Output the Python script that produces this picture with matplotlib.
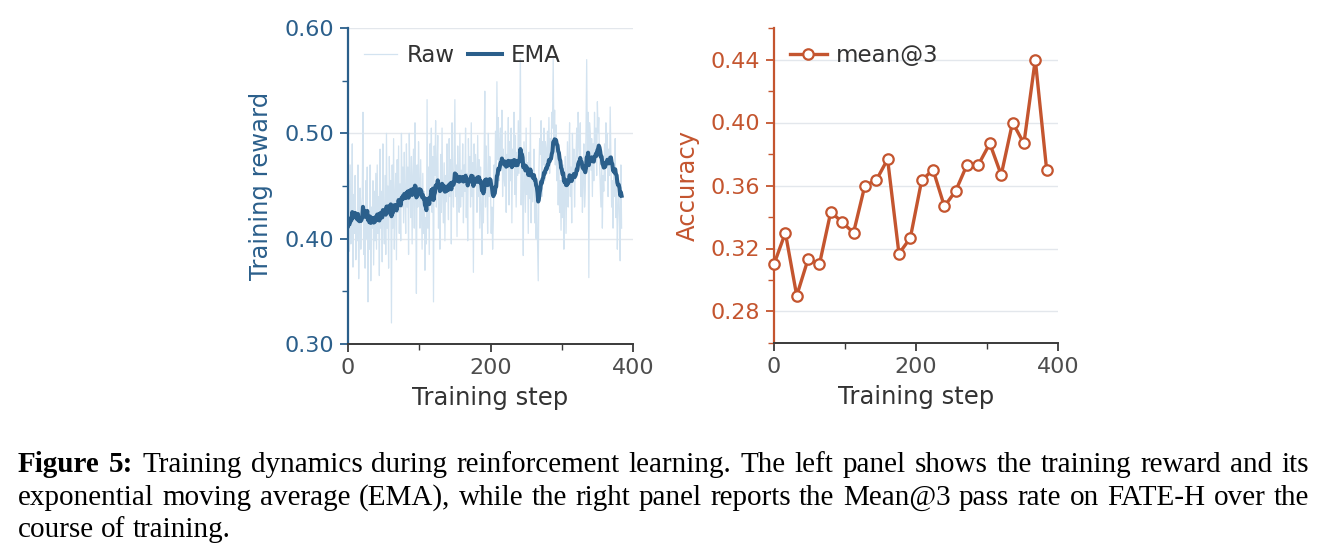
import matplotlib
matplotlib.use("Agg")
import matplotlib.pyplot as plt
import numpy as np
import pandas as pd
from matplotlib.ticker import MultipleLocator

# ---------------- data ----------------
raw_reward = [
    0.412, 0.455, 0.388, 0.470, 0.395, 0.430, 0.490, 0.373, 0.442, 0.405, 0.460, 0.380, 0.425, 0.398, 0.470, 0.362, 0.410, 0.448, 0.390, 0.430,
    0.440, 0.520, 0.385, 0.430, 0.372, 0.455, 0.400, 0.468, 0.340, 0.425, 0.390, 0.470, 0.360, 0.430, 0.410, 0.455, 0.375, 0.445, 0.398, 0.462,
    0.390, 0.470, 0.405, 0.440, 0.365, 0.485, 0.410, 0.445, 0.378, 0.490, 0.420, 0.395, 0.460, 0.385, 0.500, 0.410, 0.450, 0.372, 0.478, 0.430,
    0.455, 0.320, 0.470, 0.410, 0.495, 0.390, 0.440, 0.462, 0.380, 0.475, 0.425, 0.488, 0.405, 0.452, 0.398, 0.500, 0.430, 0.468, 0.415, 0.482,
    0.440, 0.405, 0.490, 0.430, 0.468, 0.385, 0.500, 0.452, 0.420, 0.478, 0.395, 0.460, 0.485, 0.410, 0.510, 0.440, 0.348, 0.470, 0.430, 0.492,
    0.455, 0.410, 0.475, 0.430, 0.390, 0.462, 0.405, 0.445, 0.370, 0.420, 0.395, 0.532, 0.410, 0.468, 0.385, 0.490, 0.450, 0.505, 0.425, 0.478,
    0.340, 0.488, 0.460, 0.512, 0.430, 0.470, 0.498, 0.410, 0.455, 0.390, 0.480, 0.425, 0.505, 0.440, 0.415, 0.472, 0.398, 0.460, 0.435, 0.490,
    0.450, 0.418, 0.495, 0.440, 0.475, 0.395, 0.510, 0.455, 0.430, 0.482, 0.532, 0.440, 0.470, 0.402, 0.488, 0.450, 0.425, 0.500, 0.430, 0.465,
    0.440, 0.490, 0.415, 0.470, 0.445, 0.505, 0.420, 0.462, 0.398, 0.495, 0.450, 0.478, 0.430, 0.510, 0.440, 0.472, 0.368, 0.490, 0.455, 0.480,
    0.460, 0.425, 0.498, 0.440, 0.475, 0.410, 0.468, 0.430, 0.385, 0.450, 0.415, 0.472, 0.540, 0.430, 0.488, 0.452, 0.405, 0.500, 0.440, 0.478,
    0.450, 0.405, 0.430, 0.390, 0.418, 0.470, 0.440, 0.502, 0.455, 0.549, 0.475, 0.515, 0.455, 0.492, 0.505, 0.465, 0.522, 0.440, 0.485, 0.458,
    0.450, 0.502, 0.425, 0.480, 0.468, 0.515, 0.432, 0.492, 0.455, 0.505, 0.415, 0.485, 0.470, 0.520, 0.442, 0.498, 0.430, 0.482, 0.460, 0.512,
    0.462, 0.500, 0.571, 0.432, 0.485, 0.448, 0.384, 0.492, 0.460, 0.425, 0.505, 0.442, 0.472, 0.405, 0.482, 0.438, 0.515, 0.415, 0.465, 0.435,
    0.450, 0.485, 0.415, 0.460, 0.400, 0.435, 0.395, 0.360, 0.465, 0.495, 0.480, 0.512, 0.440, 0.492, 0.470, 0.505, 0.455, 0.492, 0.485, 0.462,
    0.502, 0.472, 0.515, 0.462, 0.495, 0.480, 0.520, 0.505, 0.571, 0.488, 0.522, 0.470, 0.508, 0.455, 0.480, 0.432, 0.468, 0.425, 0.455, 0.408,
    0.455, 0.420, 0.470, 0.390, 0.440, 0.478, 0.405, 0.450, 0.492, 0.430, 0.475, 0.510, 0.440, 0.468, 0.415, 0.500, 0.455, 0.485, 0.430, 0.470,
    0.480, 0.505, 0.460, 0.520, 0.490, 0.475, 0.510, 0.440, 0.470, 0.425, 0.455, 0.490, 0.430, 0.445, 0.500, 0.570, 0.480, 0.520, 0.363, 0.510,
    0.500, 0.465, 0.495, 0.440, 0.490, 0.455, 0.520, 0.480, 0.505, 0.460, 0.530, 0.500, 0.515, 0.470, 0.450, 0.430, 0.480, 0.410, 0.460, 0.445,
    0.490, 0.455, 0.510, 0.470, 0.500, 0.440, 0.485, 0.460, 0.525, 0.480, 0.430, 0.455, 0.410, 0.470, 0.440, 0.495, 0.420, 0.450, 0.390, 0.430,
    0.455, 0.420, 0.379, 0.470, 0.410,
]
reward_steps = list(range(len(raw_reward)))
ema_alpha = 0.1

acc_steps = [0, 16, 32, 48, 64, 80, 96, 112, 128, 144, 160, 176, 192, 208, 224,
             240, 256, 272, 288, 304, 320, 336, 352, 368, 384]
acc_mean3 = [0.310, 0.330, 0.290, 0.3133, 0.310, 0.3433, 0.3367, 0.330, 0.360, 0.3633,
             0.3767, 0.3167, 0.3267, 0.3633, 0.370, 0.3467, 0.3567, 0.3733, 0.3733, 0.3867,
             0.3667, 0.400, 0.3867, 0.440, 0.370]

caption_lines = [
    "Figure 5: Training dynamics during reinforcement learning. The left panel shows the training reward and its",
    "exponential moving average (EMA), while the right panel reports the Mean@3 pass rate on FATE-H over the",
    "course of training.",
]

# ---------------- style ----------------
BLUE = "#2b5f8b"
RAW_C = "#d3e3f0"
ORANGE = "#c4552f"
GRID_C = "#e3e7ec"
XAX_C = "#3a3a3a"
TICK_C = "#4d4d4d"
LABEL_C = "#333333"
TICK_FS = 16
LEG_FS = 16.5
LABEL_FS = 17.5

plt.rcParams['font.family'] = ['DejaVu Sans']

W, H = 1327, 555
fig = plt.figure(figsize=(W / 100, H / 100), dpi=100)

def px_axes(x0, y0, x1, y1):
    return fig.add_axes([x0 / W, 1 - y1 / H, (x1 - x0) / W, (y1 - y0) / H])

def style_axes(ax, ycol):
    for s in ["top", "right"]:
        ax.spines[s].set_visible(False)
    ax.spines["left"].set_color(ycol)
    ax.spines["left"].set_linewidth(1.6)
    ax.spines["bottom"].set_color(XAX_C)
    ax.spines["bottom"].set_linewidth(1.4)
    ax.tick_params(axis="y", which="major", colors=ycol, labelsize=TICK_FS, length=6, width=1.3, pad=4)
    ax.tick_params(axis="y", which="minor", colors=ycol, length=4, width=1.0)
    ax.tick_params(axis="x", which="major", colors=XAX_C, labelcolor=TICK_C, labelsize=TICK_FS, length=6, width=1.3, pad=4)
    ax.tick_params(axis="x", which="minor", colors=XAX_C, length=4, width=1.0)
    ax.set_xlim(0, 400)
    ax.xaxis.set_major_locator(MultipleLocator(200))
    ax.xaxis.set_minor_locator(MultipleLocator(100))
    ax.grid(axis="y", which="major", color=GRID_C, linewidth=1.0, zorder=0)
    ax.set_axisbelow(True)
    ax.set_xlabel("Training step", fontsize=LABEL_FS, color=LABEL_C, labelpad=6)

# ---------------- left panel ----------------
ax1 = px_axes(348, 28, 633, 344)
ema = pd.Series(raw_reward).ewm(alpha=ema_alpha, adjust=False).mean()
ax1.plot(reward_steps, raw_reward, color=RAW_C, linewidth=0.9, label="Raw", zorder=2)
ax1.plot(reward_steps, ema, color=BLUE, linewidth=2.9, label="EMA", zorder=3)
ax1.set_ylim(0.30, 0.60)
ax1.yaxis.set_major_locator(MultipleLocator(0.10))
ax1.yaxis.set_minor_locator(MultipleLocator(0.05))
ax1.yaxis.set_major_formatter(matplotlib.ticker.FormatStrFormatter("%.2f"))
style_axes(ax1, BLUE)
ax1.set_ylabel("Training reward", fontsize=LABEL_FS, color=BLUE, labelpad=8)
leg1 = ax1.legend(loc="upper left", ncol=2, frameon=False, fontsize=LEG_FS,
                  handlelength=1.45, columnspacing=0.6, handletextpad=0.4,
                  bbox_to_anchor=(0.0, 1.0), borderaxespad=0.3)
for t in leg1.get_texts():
    t.set_color(LABEL_C)

# ---------------- right panel ----------------
ax2 = px_axes(774, 28, 1058, 343)
ax2.plot(acc_steps, acc_mean3, color=ORANGE, linewidth=2.4, marker="o",
         markersize=7.5, markerfacecolor="white", markeredgecolor=ORANGE,
         markeredgewidth=1.6, label="mean@3", zorder=3, clip_on=False)
ax2.set_ylim(0.26, 0.46)
ax2.set_yticks([0.28, 0.32, 0.36, 0.40, 0.44])
ax2.yaxis.set_minor_locator(matplotlib.ticker.FixedLocator([0.26, 0.30, 0.34, 0.38, 0.42, 0.46]))
ax2.yaxis.set_major_formatter(matplotlib.ticker.FormatStrFormatter("%.2f"))
style_axes(ax2, ORANGE)
ax2.set_ylabel("Accuracy", fontsize=LABEL_FS, color=ORANGE, labelpad=8)
leg2 = ax2.legend(loc="upper left", frameon=False, fontsize=LEG_FS,
                  handlelength=1.6, handletextpad=0.4,
                  bbox_to_anchor=(0.0, 1.0), borderaxespad=0.3)
for t in leg2.get_texts():
    t.set_color(LABEL_C)

# ---------------- caption (justified) ----------------
renderer = fig.canvas.get_renderer()
CAP_FS = 21
cap_family = ["Liberation Serif", "DejaVu Serif"]
x_left, x_right = 18, 1309
baselines = [472, 505, 537]

for li, line in enumerate(caption_lines):
    words = line.split(" ")
    texts = []
    for wi, w in enumerate(words):
        bold = (li == 0 and wi < 2)
        t = fig.text(0, 1 - baselines[li] / H, w, fontsize=CAP_FS, family=cap_family,
                     weight="bold" if bold else "normal", va="baseline", ha="left",
                     color="black")
        texts.append(t)
    widths = [t.get_window_extent(renderer).width for t in texts]
    if li < len(caption_lines) - 1:
        gap = (x_right - x_left - sum(widths)) / (len(words) - 1)
    else:
        sp = fig.text(0, 0, "a a", fontsize=CAP_FS, family=cap_family)
        a = fig.text(0, 0, "aa", fontsize=CAP_FS, family=cap_family)
        gap = sp.get_window_extent(renderer).width - a.get_window_extent(renderer).width
        sp.remove(); a.remove()
    x = x_left
    for t, w in zip(texts, widths):
        t.set_x(x / W)
        x += w + gap

fig.savefig("out.png", dpi=100)
